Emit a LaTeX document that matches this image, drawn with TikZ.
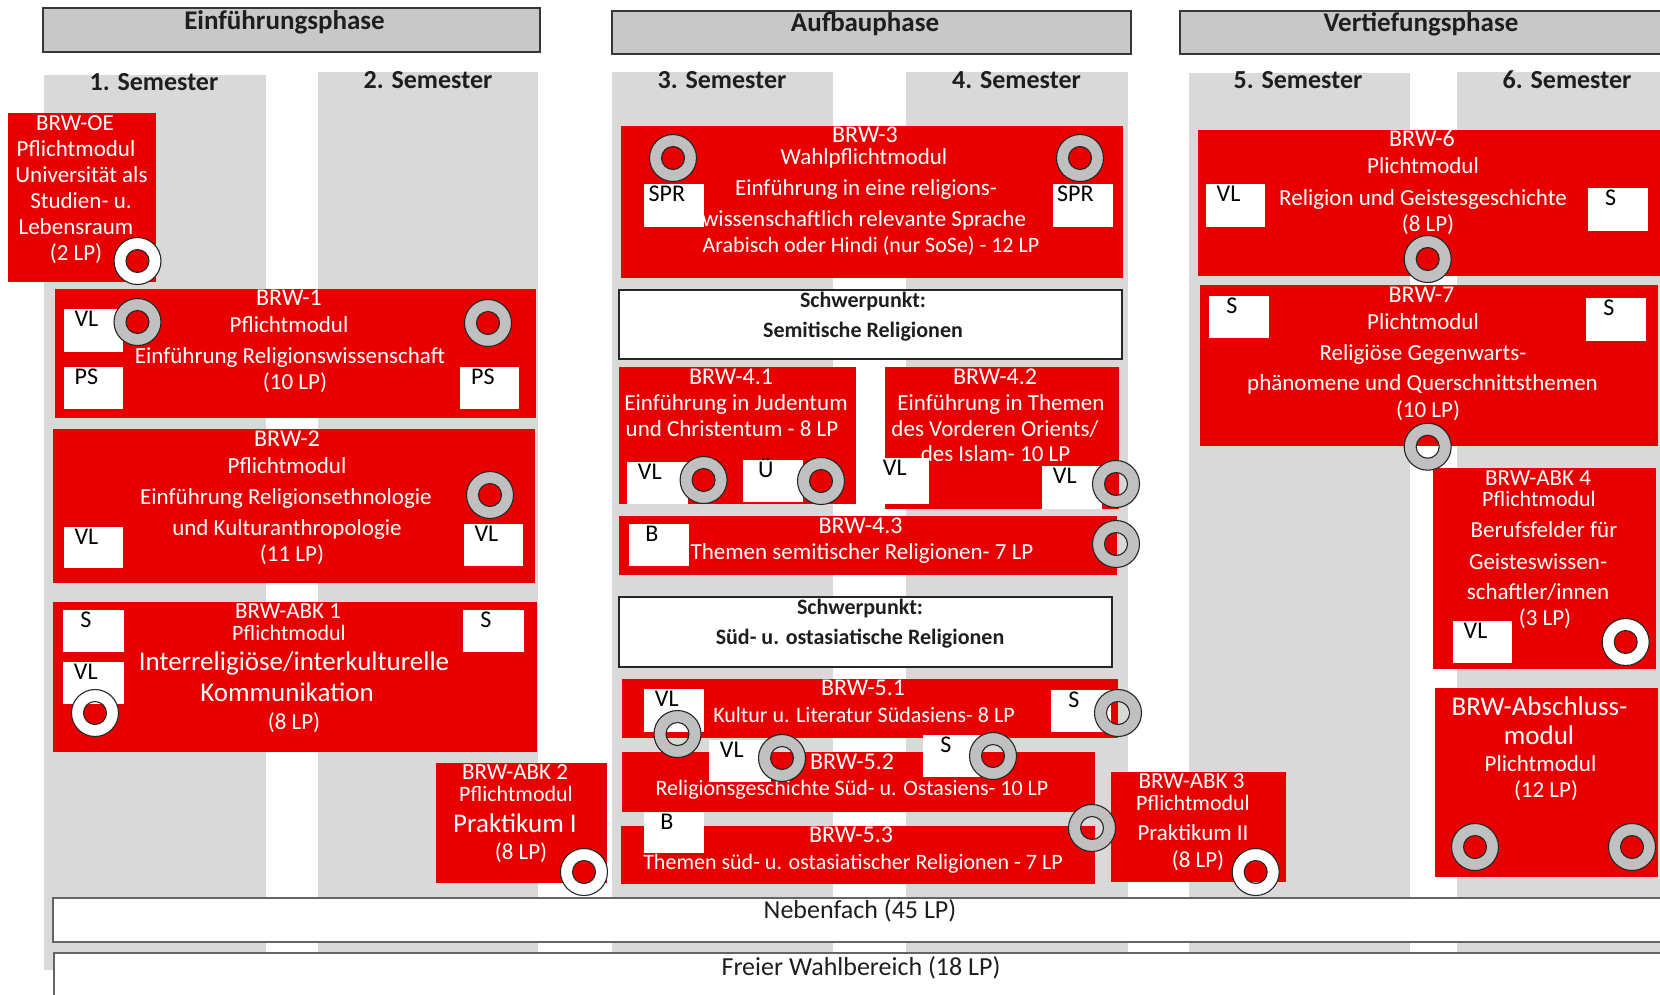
\documentclass[tikz,border=0pt]{standalone}
\usepackage{fontspec}
\setmainfont{Carlito}
\usetikzlibrary{fit}
\definecolor{hsred}{RGB}{232,0,0}
\definecolor{colgray}{RGB}{217,217,217}
\definecolor{hdrgray}{RGB}{200,200,200}
\definecolor{ringgray}{RGB}{192,192,192}
\definecolor{edgegray}{RGB}{55,55,55}
\definecolor{bandedge}{RGB}{100,100,100}
\definecolor{darktext}{RGB}{30,30,30}
\tikzset{
  col/.style={fill=colgray, draw=none, inner sep=0pt, outer sep=0pt},
  phase/.style={fill=hdrgray, draw=edgegray, line width=2pt, inner sep=0pt},
  modbox/.style={fill=hsred, draw=none, inner sep=0pt},
  sqbox/.style={fill=white, draw=none, inner sep=0pt},
  focus/.style={fill=white, draw=black!85, line width=2pt, inner sep=0pt},
  band/.style={fill=white, draw=bandedge, line width=2.2pt, inner sep=0pt},
  wtxt/.style={text=white, inner sep=0pt, anchor=base},
  sqlbl/.style={text=black, inner sep=0pt, anchor=base, font=\fontsize{24}{24}\selectfont},
  ttl/.style={text=darktext, inner sep=0pt, anchor=base, font=\bfseries\fontsize{27}{27}\selectfont},
  semlbl/.style={text=darktext, inner sep=0pt, anchor=base, font=\bfseries\fontsize{26}{26}\selectfont},
  foctxt/.style={text=darktext, inner sep=0pt, anchor=base, font=\bfseries\fontsize{22}{22}\selectfont},
  bandtxt/.style={text=darktext, inner sep=0pt, anchor=base, font=\fontsize{26}{26}\selectfont},
  ringst/.style={draw=black!85, line width=1.1pt, even odd rule},
}
\newcounter{tl}
\newcommand\wl[4]{\stepcounter{tl}\node[wtxt,font=\fontsize{#1}{#1}\selectfont] (w\arabic{tl}) at (#2,{#3+0.32*#1}) {#4};}
\newcommand\sqr[6]{\node[sqbox, fit={(#2,#3) (#4,#5)}] (#1) {};
  \node[sqlbl] (#1l) at ([xshift=23pt,yshift=-18pt]#1.north west) {#6};}
\newcommand\ring[4]{\coordinate (#1) at (#3,#4);
  \path[ringst, fill=#2] (#1) circle (23.5pt) (#1) circle (11.5pt);}
\newcommand\modrect[5]{\node[modbox, fit={(#2,#3) (#4,#5)}] (#1) {};}
\begin{document}
\begin{tikzpicture}[x=1pt,y=-1pt]
\useasboundingbox (0,0) rectangle (1660,994);
\clip (0,0) rectangle (1660,994);
% semester columns
\node[col, fit={(44,75) (266,970)}] (c1) {};
\node[col, fit={(318,72) (538,970)}] (c2) {};
\node[col, fit={(612,72) (833,970)}] (c3) {};
\node[col, fit={(906,72) (1128,970)}] (c4) {};
\node[col, fit={(1189,73) (1410,970)}] (c5) {};
\node[col, fit={(1457,72) (1690,970)}] (c6) {};
% bands
\node[band, fit={(53,898) (1720,942)}] (neben) {};
\node[band, fit={(54,953) (1720,1030)}] (freier) {};
\node[bandtxt] (nebent) at (860,918) {Nebenfach (45 LP)};
\node[bandtxt] (freiert) at (861,975) {Freier Wahlbereich (18 LP)};
% phases
\node[phase, fit={(43,8) (540,52)}] (p1) {};
\node[phase, fit={(612,11) (1131,54)}] (p2) {};
\node[phase, fit={(1180,11) (1720,54)}] (p3) {};
\node[ttl] (p1t) at (284.5,29) {Einführungsphase};
\node[ttl] (p2t) at (865,31) {Aufbauphase};
\node[ttl] (p3t) at (1421,31) {Vertiefungsphase};
% semester labels
\node[semlbl] (s1) at (154,90) {1. Semester};
\node[semlbl] (s2) at (428,88) {2. Semester};
\node[semlbl] (s3) at (722,88) {3. Semester};
\node[semlbl] (s4) at (1016.5,88) {4. Semester};
\node[semlbl] (s5) at (1298,88) {5. Semester};
\node[semlbl] (s6) at (1567,88) {6. Semester};
% focus boxes
\node[focus, fit={(619,290) (1122,359)}] (sp1) {};
\node[foctxt] (sp1a) at (863,307) {Schwerpunkt:};
\node[foctxt] (sp1b) at (863,337) {Semitische Religionen};
\node[focus, fit={(619,597) (1112,667)}] (sp2) {};
\node[foctxt] (sp2a) at (860,614) {Schwerpunkt:};
\node[foctxt] (sp2b) at (860,644) {Süd- u. ostasiatische Religionen};
% modules
\modrect{oe}{8}{113}{156}{282}
\modrect{brw1}{55}{289}{536}{418}
\modrect{brw2}{53}{429}{535}{583}
\modrect{abk1}{53}{602}{537}{752}
\modrect{abk2}{436}{763}{607}{883}
\modrect{brw3}{621}{126}{1123}{278}
\modrect{brw41}{619}{367}{856}{504}
\modrect{brw42}{885}{367}{1119}{509}
\modrect{brw43}{619}{516}{1117}{575}
\modrect{brw51}{622}{679}{1118}{738}
\modrect{brw52}{622}{752}{1095}{812}
\modrect{brw53}{621}{826}{1095}{884}
\modrect{abk3}{1111}{772}{1286}{882}
\modrect{brw6}{1198}{130}{1662}{276}
\modrect{brw7}{1200}{285}{1658}{446}
\modrect{abk4}{1433}{468}{1656}{669}
\modrect{absch}{1435}{688}{1658}{877}
% module texts
\wl{23}{75}{123}{BRW-OE}
\wl{23}{76}{149}{Pflichtmodul}
\wl{23}{81.5}{175}{Universität als}
\wl{23}{81}{201}{Studien- u.}
\wl{23}{76}{227}{Lebensraum}
\wl{23}{76}{253}{(2 LP)}
\wl{24}{289}{298}{BRW-1}
\wl{23}{289}{325}{Pflichtmodul}
\wl{23}{290}{356}{Einführung Religionswissenschaft}
\wl{23}{295}{382}{(10 LP)}
\wl{24}{287}{439}{BRW-2}
\wl{23}{287}{466}{Pflichtmodul}
\wl{23}{286}{497}{Einführung Religionsethnologie}
\wl{23}{287}{528}{und Kulturanthropologie}
\wl{23}{292}{554}{(11 LP)}
\wl{23}{288}{611}{BRW-ABK 1}
\wl{22}{289}{633}{Pflichtmodul}
\wl{27}{294}{662}{Interreligiöse/interkulturelle}
\wl{27}{287}{693}{Kommunikation}
\wl{23}{294}{722}{(8 LP)}
\wl{23}{515}{772}{BRW-ABK 2}
\wl{22}{516}{794}{Pflichtmodul}
\wl{27}{515}{824}{Praktikum I}
\wl{23}{521}{852}{(8 LP)}
\wl{24}{865}{135}{BRW-3}
\wl{23}{864}{157}{Wahlpflichtmodul}
\wl{23}{866}{188}{Einführung in eine religions-}
\wl{23}{864}{219}{wissenschaftlich relevante Sprache}
\wl{22}{871}{245}{Arabisch oder Hindi (nur SoSe) - 12 LP}
\wl{24}{731}{377}{BRW-4.1}
\wl{23}{736}{403}{Einführung in Judentum}
\wl{23}{732}{429}{und Christentum - 8 LP}
\wl{24}{995}{377}{BRW-4.2}
\wl{23}{1001}{403}{Einführung in Themen}
\wl{23}{995}{429}{des Vorderen Orients/}
\wl{23}{995.5}{454}{des Islam- 10 LP}
\wl{24}{860.5}{526}{BRW-4.3}
\wl{23}{862}{552}{Themen semitischer Religionen- 7 LP}
\wl{24}{863}{688}{BRW-5.1}
\wl{22}{864}{715}{Kultur u. Literatur Südasiens- 8 LP}
\wl{24}{852}{762}{BRW-5.2}
\wl{22}{852}{788}{Religionsgeschichte Süd- u. Ostasiens- 10 LP}
\wl{24}{851}{835}{BRW-5.3}
\wl{22}{853}{862}{Themen süd- u. ostasiatischer Religionen - 7 LP}
\wl{23}{1191.5}{781}{BRW-ABK 3}
\wl{22}{1193}{803}{Pflichtmodul}
\wl{23}{1193}{833}{Praktikum II}
\wl{23}{1198}{860}{(8 LP)}
\wl{24}{1422}{139}{BRW-6}
\wl{23}{1423}{166}{Plichtmodul}
\wl{23}{1423}{198}{Religion und Geistesgeschichte}
\wl{23}{1428}{224}{(8 LP)}
\wl{24}{1421.5}{295}{BRW-7}
\wl{23}{1423}{322}{Plichtmodul}
\wl{23}{1423}{353}{Religiöse Gegenwarts-}
\wl{23}{1422.5}{383}{phänomene und Querschnittsthemen}
\wl{23}{1428}{410}{(10 LP)}
\wl{23}{1538}{478}{BRW-ABK 4}
\wl{22}{1539}{499}{Pflichtmodul}
\wl{23}{1544}{530}{Berufsfelder für}
\wl{23}{1538}{562}{Geisteswissen-}
\wl{23}{1538}{592}{schaftler/innen}
\wl{23}{1545}{618}{(3 LP)}
\wl{27}{1539.5}{707}{BRW-Abschluss-}
\wl{27}{1539}{736}{modul}
\wl{23}{1540.5}{764}{Plichtmodul}
\wl{23}{1546}{790}{(12 LP)}
% white squares
\sqr{q1}{63.6}{309}{123}{352}{VL}
\sqr{q2}{63.6}{367}{123}{409}{PS}
\sqr{q3}{460}{367}{519}{409}{PS}
\sqr{q4}{63.6}{527}{123}{568}{VL}
\sqr{q5}{463.6}{524}{523}{566}{VL}
\sqr{q6}{63}{610}{124}{652}{S}
\sqr{q7}{63}{662}{124}{704}{VL}
\sqr{q8}{463}{610}{524}{652}{S}
\sqr{q9}{644}{184}{703.6}{227}{SPR}
\sqr{q10}{1052.5}{184}{1112.5}{227}{SPR}
\sqr{q11}{627}{462}{687.5}{504}{VL}
\sqr{q12}{743}{460}{803}{502}{Ü}
\sqr{q13}{872}{458}{929}{504}{VL}
\sqr{q14}{1042}{466}{1102}{509}{VL}
\sqr{q15}{629}{524}{688.6}{566}{B}
\sqr{q16}{644}{689}{703.6}{732}{VL}
\sqr{q17}{1051}{690}{1110.7}{732}{S}
\sqr{q18}{709}{740}{770.7}{782}{VL}
\sqr{q19}{923}{735}{980}{777}{S}
\sqr{q20}{644}{812}{703.6}{853}{B}
\sqr{q21}{1205.7}{184}{1265}{227}{VL}
\sqr{q22}{1587.7}{188}{1647.7}{231}{S}
\sqr{q23}{1209}{296}{1269}{338}{S}
\sqr{q24}{1586}{298}{1645.7}{341}{S}
\sqr{q25}{1452.7}{621}{1512}{663}{VL}
% rings
\ring{r1}{white}{137.5}{261}
\ring{r2}{ringgray}{137.5}{322}
\ring{r3}{ringgray}{488}{323}
\ring{r4}{ringgray}{490}{495}
\ring{r5}{white}{95}{713}
\ring{r6}{white}{584}{872}
\ring{r7}{ringgray}{673}{158}
\ring{r8}{ringgray}{1080}{158}
\ring{r9}{ringgray}{703.6}{480}
\ring{r10}{ringgray}{821}{481}
\ring{r11}{ringgray}{1116}{484}
\ring{r12}{ringgray}{1116}{544}
\ring{r13}{ringgray}{677.5}{734}
\ring{r14}{ringgray}{1118}{713}
\ring{r15}{ringgray}{782}{758}
\ring{r16}{ringgray}{993}{756}
\ring{r17}{ringgray}{1092}{828}
\ring{r18}{white}{1255.7}{872}
\ring{r19}{ringgray}{1427.7}{259}
\ring{r20}{ringgray}{1427.7}{446.7}
\ring{r21}{white}{1625.7}{642}
\ring{r22}{ringgray}{1475}{847}
\ring{r23}{ringgray}{1632}{847}
\end{tikzpicture}
\end{document}
